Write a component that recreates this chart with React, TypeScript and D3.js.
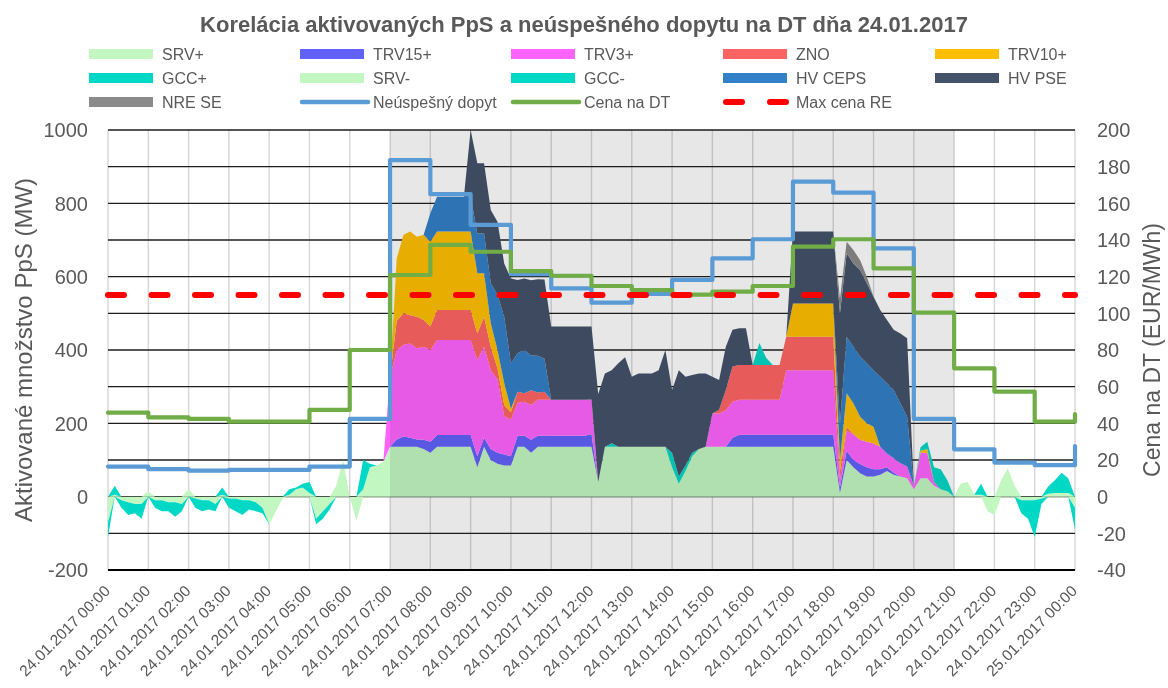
import React from 'react';
import * as d3 from 'd3';

const TITLE = 'Korelácia aktivovaných PpS a neúspešného dopytu na DT dňa 24.01.2017';

const X_LABELS = [
  '24.01.2017 00:00', '24.01.2017 01:00', '24.01.2017 02:00', '24.01.2017 03:00', '24.01.2017 04:00',
  '24.01.2017 05:00', '24.01.2017 06:00', '24.01.2017 07:00', '24.01.2017 08:00', '24.01.2017 09:00',
  '24.01.2017 10:00', '24.01.2017 11:00', '24.01.2017 12:00', '24.01.2017 13:00', '24.01.2017 14:00',
  '24.01.2017 15:00', '24.01.2017 16:00', '24.01.2017 17:00', '24.01.2017 18:00', '24.01.2017 19:00',
  '24.01.2017 20:00', '24.01.2017 21:00', '24.01.2017 22:00', '24.01.2017 23:00', '25.01.2017 00:00',
];

const LEFT_TICKS = [-200, 0, 200, 400, 600, 800, 1000];
const RIGHT_TICKS = [-40, -20, 0, 20, 40, 60, 80, 100, 120, 140, 160, 180, 200];

// stacked series, one value every 10 minutes (6 per hour, row = hour), last value = 24:00
const SRV_PLUS = [
  0, 5, 0, 0, 0, 0,
  15, 0, 0, 0, 0, 0,
  20, 0, 0, 0, 0, 5,
  0, 0, 0, 0, 0, 0,
  0, 0, 0, 5, 20, 25,
  10, 0, 0, 0, 30, 100,
  0, 0, 20, 80, 85, 95,
  136, 136, 136, 136, 136, 130,
  120, 136, 136, 136, 136, 136,
  136, 80, 136, 100, 90, 85,
  85, 136, 136, 120, 136, 136,
  136, 136, 136, 136, 136, 136,
  136, 40, 136, 136, 136, 136,
  136, 136, 136, 136, 136, 136,
  80, 35, 70, 110, 130, 136,
  136, 136, 136, 136, 136, 136,
  136, 136, 136, 136, 136, 136,
  136, 136, 136, 136, 136, 136,
  136, 10, 100, 80, 64, 55,
  55, 60, 70, 60, 55, 50,
  20, 50, 50, 30, 20, 15,
  0, 36, 40, 5, 5, 0,
  0, 45, 77, 30, 0, 0,
  0, 0, 8, 10, 10, 10,
  0,
];

const TRV15_PLUS = [
  0, 0, 0, 0, 0, 0,
  0, 0, 0, 0, 0, 0,
  0, 0, 0, 0, 0, 0,
  0, 0, 0, 0, 0, 0,
  0, 0, 0, 0, 0, 0,
  0, 0, 0, 0, 0, 0,
  0, 0, 0, 0, 0, 0,
  0, 20, 28, 25, 20, 25,
  30, 32, 32, 32, 32, 32,
  32, 30, 25, 30, 30, 30,
  25, 30, 30, 35, 30, 30,
  30, 30, 30, 30, 30, 30,
  35, 0, 0, 0, 0, 0,
  0, 0, 0, 0, 0, 0,
  0, 0, 0, 0, 0, 0,
  0, 0, 0, 25, 33, 33,
  33, 33, 33, 33, 33, 33,
  33, 33, 33, 33, 33, 33,
  33, 15, 25, 20, 25, 25,
  20, 15, 10, 5, 0, 0,
  0, 0, 0, 0, 0, 0,
  0, 0, 0, 0, 0, 0,
  0, 0, 0, 0, 0, 0,
  0, 0, 0, 0, 0, 0,
  0,
];

const TRV3_PLUS = [
  0, 0, 0, 0, 0, 0,
  0, 0, 0, 0, 0, 0,
  0, 0, 0, 0, 0, 0,
  0, 0, 0, 0, 0, 0,
  0, 0, 0, 0, 0, 0,
  0, 0, 0, 0, 0, 0,
  0, 0, 0, 0, 0, 0,
  190, 244, 250, 257, 249, 254,
  250, 259, 259, 259, 259, 259,
  259, 263, 248, 215, 200, 105,
  100, 90, 93, 95, 98, 98,
  98, 98, 98, 98, 98, 98,
  94, 0, 0, 0, 0, 0,
  0, 0, 0, 0, 0, 0,
  0, 0, 0, 0, 0, 0,
  91, 91, 100, 98, 95, 95,
  95, 95, 95, 95, 95, 176,
  176, 176, 176, 176, 176, 176,
  176, 20, 55, 70, 66, 70,
  70, 61, 38, 40, 36, 32,
  10, 70, 70, 10, 0, 0,
  0, 0, 0, 0, 0, 0,
  0, 0, 0, 0, 0, 0,
  0, 0, 0, 0, 0, 0,
  0,
];

const ZNO = [
  0, 0, 0, 0, 0, 0,
  0, 0, 0, 0, 0, 0,
  0, 0, 0, 0, 0, 0,
  0, 0, 0, 0, 0, 0,
  0, 0, 0, 0, 0, 0,
  0, 0, 0, 0, 0, 0,
  0, 0, 0, 0, 0, 0,
  0, 80, 86, 77, 86, 73,
  64, 82, 82, 82, 82, 82,
  82, 72, 82, 64, 30, 30,
  20, 30, 23, 40, 20, 22,
  0, 0, 0, 0, 0, 0,
  0, 0, 0, 0, 0, 0,
  0, 0, 0, 0, 0, 0,
  0, 0, 0, 0, 0, 0,
  0, 10, 55, 96, 95, 95,
  95, 95, 95, 95, 95, 91,
  91, 91, 91, 91, 91, 91,
  91, 25, 10, 0, 0, 0,
  0, 0, 0, 0, 0, 0,
  0, 0, 0, 0, 0, 0,
  0, 0, 0, 0, 0, 0,
  0, 0, 0, 0, 0, 0,
  0, 0, 0, 0, 0, 0,
  0,
];

const TRV10_PLUS = [
  0, 0, 0, 0, 0, 0,
  0, 0, 0, 0, 0, 0,
  0, 0, 0, 0, 0, 0,
  0, 0, 0, 0, 0, 0,
  0, 0, 0, 0, 0, 0,
  0, 0, 0, 0, 0, 0,
  0, 0, 0, 0, 0, 0,
  0, 170, 214, 228, 218, 232,
  231, 214, 214, 214, 214, 214,
  214, 164, 118, 64, 50, 60,
  10, 0, 0, 0, 0, 0,
  0, 0, 0, 0, 0, 0,
  0, 0, 0, 0, 0, 0,
  0, 0, 0, 0, 0, 0,
  0, 0, 0, 0, 0, 0,
  0, 0, 0, 0, 0, 0,
  0, 0, 0, 0, 0, 0,
  91, 91, 91, 91, 91, 91,
  91, 30, 92, 85, 63, 50,
  46, 0, 0, 0, 0, 0,
  0, 5, 10, 0, 0, 0,
  0, 0, 0, 0, 0, 0,
  0, 0, 0, 0, 0, 0,
  0, 0, 0, 0, 0, 0,
  0,
];

const GCC_PLUS = [
  0, 25, 0, 0, 0, 0,
  0, 0, 0, 0, 0, 0,
  0, 0, 0, 0, 0, 20,
  0, 0, 0, 0, 0, 0,
  0, 0, 0, 15, 5, 10,
  30, 0, 0, 0, 0, 0,
  0, 0, 80, 10, 0, 0,
  0, 0, 0, 0, 0, 0,
  0, 0, 0, 0, 0, 0,
  0, 0, 0, 0, 0, 0,
  0, 0, 0, 0, 0, 0,
  0, 0, 0, 0, 0, 0,
  0, 0, 0, 10, 0, 0,
  0, 0, 0, 0, 0, 0,
  40, 20, 15, 10, 0, 0,
  0, 0, 0, 0, 0, 0,
  0, 60, 20, 0, 0, 0,
  0, 0, 0, 0, 0, 0,
  0, 0, 0, 0, 0, 0,
  0, 0, 0, 0, 0, 0,
  0, 10, 20, 40, 55, 30,
  0, 0, 0, 0, 30, 0,
  0, 0, 0, 0, 0, 0,
  0, 0, 20, 35, 55, 40,
  0,
];

const SRV_MINUS = [
  -70, 0, -10, -15, -20, -20,
  0, -10, -10, -15, -15, -20,
  0, -5, -10, -10, -20, 0,
  -5, -5, -10, -10, -15, -30,
  -75, -40, -5, 0, 0, 0,
  0, -60, -40, -20, 0, 0,
  0, -65, 0, 0, 0, 0,
  0, 0, 0, 0, 0, 0,
  0, 0, 0, 0, 0, 0,
  0, 0, 0, 0, 0, 0,
  0, 0, 0, 0, 0, 0,
  0, 0, 0, 0, 0, 0,
  0, 0, 0, 0, 0, 0,
  0, 0, 0, 0, 0, 0,
  0, 0, 0, 0, 0, 0,
  0, 0, 0, 0, 0, 0,
  0, 0, 0, 0, 0, 0,
  0, 0, 0, 0, 0, 0,
  0, 0, 0, 0, 0, 0,
  0, 0, 0, 0, 0, 0,
  0, 0, 0, 0, 0, 0,
  0, 0, 0, 0, 0, -40,
  -50, 0, 0, 0, -10, -10,
  -10, -5, 0, 0, 0, 0,
  -30,
];

const GCC_MINUS = [
  -40, 0, -20, -35, -25, -40,
  0, -20, -30, -25, -40, -20,
  0, -25, -30, -25, -20, 0,
  -25, -35, -40, -25, -25, -15,
  0, 0, 0, 0, 0, 0,
  0, -15, -20, -15, 0, 0,
  0, 0, 0, 0, 0, 0,
  0, 0, 0, 0, 0, 0,
  0, 0, 0, 0, 0, 0,
  0, 0, 0, 0, 0, 0,
  0, 0, 0, 0, 0, 0,
  0, 0, 0, 0, 0, 0,
  0, 0, 0, 0, 0, 0,
  0, 0, 0, 0, 0, 0,
  0, 0, 0, 0, 0, 0,
  0, 0, 0, 0, 0, 0,
  0, 0, 0, 0, 0, 0,
  0, 0, 0, 0, 0, 0,
  0, 0, 0, 0, 0, 0,
  0, 0, 0, 0, 0, 0,
  0, 0, 0, 0, 0, 0,
  0, 0, 0, 0, 0, 0,
  0, 0, 0, 0, -35, -50,
  -100, -15, 0, 0, 0, 0,
  -60,
];

const HV_CEPS = [
  0, 0, 0, 0, 0, 0,
  0, 0, 0, 0, 0, 0,
  0, 0, 0, 0, 0, 0,
  0, 0, 0, 0, 0, 0,
  0, 0, 0, 0, 0, 0,
  0, 0, 0, 0, 0, 0,
  0, 0, 0, 0, 0, 0,
  0, 0, 0, 0, 0, 0,
  78, 95, 95, 95, 95, 95,
  95, 109, 109, 109, 150, 181,
  124, 105, 118, 95, 100, 90,
  0, 0, 0, 0, 0, 0,
  0, 0, 0, 0, 0, 0,
  0, 0, 0, 0, 0, 0,
  0, 0, 0, 0, 0, 0,
  0, 0, 0, 0, 0, 0,
  0, 0, 0, 0, 0, 0,
  0, 0, 0, 0, 0, 0,
  0, 100, 154, 154, 164, 164,
  154, 191, 191, 186, 164, 136,
  0, 0, 0, 0, 0, 0,
  0, 0, 0, 0, 0, 0,
  0, 0, 0, 0, 0, 0,
  0, 0, 0, 0, 0, 0,
  0,
];

const HV_PSE = [
  0, 0, 0, 0, 0, 0,
  0, 0, 0, 0, 0, 0,
  0, 0, 0, 0, 0, 0,
  0, 0, 0, 0, 0, 0,
  0, 0, 0, 0, 0, 0,
  0, 0, 0, 0, 0, 0,
  0, 0, 0, 0, 0, 0,
  0, 0, 0, 0, 0, 0,
  0, 0, 0, 0, 0, 0,
  182, 191, 191, 200, 200, 145,
  231, 200, 195, 205, 209, 216,
  200, 200, 200, 200, 200, 200,
  199, 240, 200, 199, 228, 244,
  191, 200, 200, 200, 209, 264,
  171, 290, 242, 212, 206, 200,
  100, 81, 118, 100, 100, 100,
  0, 0, 0, 0, 0, 0,
  196, 196, 196, 196, 196, 196,
  196, 300, 228, 227, 236, 218,
  200, 182, 173, 164, 190, 214,
  0, 0, 0, 0, 0, 0,
  0, 0, 0, 0, 0, 0,
  0, 0, 0, 0, 0, 0,
  0, 0, 0, 0, 0, 0,
  0,
];

const NRE_SE = [
  0, 0, 0, 0, 0, 0,
  0, 0, 0, 0, 0, 0,
  0, 0, 0, 0, 0, 0,
  0, 0, 0, 0, 0, 0,
  0, 0, 0, 0, 0, 0,
  0, 0, 0, 0, 0, 0,
  0, 0, 0, 0, 0, 0,
  0, 0, 0, 0, 0, 0,
  0, 0, 0, 0, 0, 0,
  0, 0, 0, 0, 0, 0,
  0, 0, 0, 0, 0, 0,
  0, 0, 0, 0, 0, 0,
  0, 0, 0, 0, 0, 0,
  0, 0, 0, 0, 0, 0,
  0, 0, 0, 0, 0, 0,
  0, 0, 0, 0, 0, 0,
  0, 0, 0, 0, 0, 0,
  0, 0, 0, 0, 0, 0,
  0, 40, 31, 37, 27, 18,
  0, 0, 0, 0, 0, 0,
  0, 0, 0, 0, 0, 0,
  0, 0, 0, 0, 0, 0,
  0, 0, 0, 0, 0, 0,
  0, 0, 0, 0, 0, 0,
  0,
];

// hourly values (00:00 ... 23:00, then 24:00)
const NEUSPESNY_DOPYT = [82, 75, 71, 73, 73, 82, 212, 918, 825, 741, 607, 568, 529, 553, 591, 650, 702, 859, 829, 677, 212, 129, 93, 86, 138];
const CENA_NA_DT = [45.8, 43.3, 42.4, 40.9, 40.9, 47.3, 80, 120.9, 137.3, 133.6, 123, 120.5, 114.9, 112.7, 110.2, 111.8, 114.9, 136.4, 140.4, 124.5, 100.4, 70, 57.3, 40.9, 45];
const MAX_CENA_RE = [110, 110];

const SERIES = [
  { key: 'SRV+', values: SRV_PLUS, color: '#c2f7c2', neg: false },
  { key: 'TRV15+', values: TRV15_PLUS, color: '#6161fa', neg: false },
  { key: 'TRV3+', values: TRV3_PLUS, color: '#ff63fe', neg: false },
  { key: 'ZNO', values: ZNO, color: '#ff6464', neg: false },
  { key: 'TRV10+', values: TRV10_PLUS, color: '#ffbf00', neg: false },
  { key: 'GCC+', values: GCC_PLUS, color: '#00d8c6', neg: false },
  { key: 'SRV-', values: SRV_MINUS, color: '#c2f7c2', neg: true },
  { key: 'GCC-', values: GCC_MINUS, color: '#00d8c6', neg: true },
  { key: 'HV CEPS', values: HV_CEPS, color: '#3280c8', neg: false },
  { key: 'HV PSE', values: HV_PSE, color: '#44526a', neg: false },
  { key: 'NRE SE', values: NRE_SE, color: '#8a8a8a', neg: false },
];

const FONT = "'Liberation Sans', Arial, sans-serif";
const TEXT = '#595959';
const W = 1168, H = 688;
const PL = 108, PR = 1075, PT = 130, PB = 570;

const NEG_KEYS = new Set(SERIES.filter(s => s.neg).map(s => s.key));

// positives stack up, negatives stack down, zeros stay on their own side
function offsetSigned(series: any, order: number[]) {
  const m = series[0].length;
  for (let j = 0; j < m; j++) {
    let up = 0, down = 0;
    for (const i of order) {
      const d = series[i][j];
      const v = d[1] - d[0];
      if (NEG_KEYS.has(series[i].key)) {
        d[1] = down; down += v; d[0] = down;
      } else {
        d[0] = up; up += v; d[1] = up;
      }
    }
  }
}

export default function App() {
  const x = d3.scaleLinear().domain([0, 24]).range([PL, PR]);
  const y = d3.scaleLinear().domain([-200, 1000]).range([PB, PT]);
  const yR = d3.scaleLinear().domain([-40, 200]).range([PB, PT]);

  const rows = SRV_PLUS.map((_, i) => {
    const r: any = { t: i / 6 };
    SERIES.forEach(s => { r[s.key] = s.values[i]; });
    return r;
  });
  const stacked = d3.stack<any>().keys(SERIES.map(s => s.key)).offset(offsetSigned as any)(rows);
  const area = d3.area<any>().x(d => x(d.data.t)).y0(d => y(d[0])).y1(d => y(d[1]));

  const dopytLine = d3.line<number>().x((_, i) => x(i)).y(d => y(d)).curve(d3.curveStepAfter);
  const cenaLine = d3.line<number>().x((_, i) => x(i)).y(d => yR(d)).curve(d3.curveStepAfter);
  const maxLine = d3.line<number>().x((_, i) => x(i * 24)).y(d => yR(d));

  const hours = d3.range(25);
  const grid = d3.range(-200, 1001, 100);

  const colX = [89, 300, 511, 723, 935];
  const rowY = [54, 78, 102];
  const legend: { label: string; kind: string; color: string }[] = [
    ...SERIES.map(s => ({ label: s.key, kind: 'rect', color: s.color })),
    { label: 'Neúspešný dopyt', kind: 'line', color: '#5b9bd5' },
    { label: 'Cena na DT', kind: 'line', color: '#70ad47' },
    { label: 'Max cena RE', kind: 'dash', color: '#ff0000' },
  ];

  return (
    <svg width={W} height={H} style={{ position: 'absolute', left: 0, top: 0, background: '#fff' }}
      fontFamily={FONT}>
      <rect x={0} y={0} width={W} height={H} fill="#fff" />
      <text x={584} y={32} textAnchor="middle" fontSize={22} fontWeight="bold" fill={TEXT}>{TITLE}</text>

      {legend.map((it, i) => {
        const cx = colX[i % 5];
        const cy = rowY[Math.floor(i / 5)];
        return (
          <g key={it.label}>
            {it.kind === 'rect' && <rect x={cx} y={cy - 5} width={64} height={10} fill={it.color} />}
            {it.kind === 'line' && <line x1={cx + 2} x2={cx + 68} y1={cy} y2={cy} stroke={it.color} strokeWidth={4.5} strokeLinecap="round" />}
            {it.kind === 'dash' && <line x1={cx + 3} x2={cx + 64} y1={cy} y2={cy} stroke={it.color} strokeWidth={6} strokeLinecap="round" strokeDasharray="16 28" />}
            <text x={cx + 73} y={cy} dy="0.36em" fontSize={16} fill={TEXT}>{it.label}</text>
          </g>
        );
      })}

      {hours.map(h => (
        <line key={'v' + h} x1={x(h)} x2={x(h)} y1={PT} y2={PB} stroke="#d6d6d6" strokeWidth={1.4} />
      ))}
      {grid.map(g => (
        <line key={'h' + g} x1={PL} x2={PR} y1={y(g)} y2={y(g)} stroke={g === -200 ? '#000' : '#1e1e1e'} strokeWidth={g === -200 ? 2.2 : 1.3} />
      ))}

      {stacked.map((s, i) => (
        <path key={s.key} d={area(s) || ''} fill={SERIES[i].color} />
      ))}

      <rect x={x(7)} y={PT} width={x(21) - x(7)} height={PB - PT} fill="#e7e7e7" style={{ mixBlendMode: 'multiply' }} />

      <path d={dopytLine(NEUSPESNY_DOPYT) || ''} fill="none" stroke="#5b9bd5" strokeWidth={4.2} strokeLinejoin="round" strokeLinecap="round" />
      <path d={cenaLine(CENA_NA_DT) || ''} fill="none" stroke="#70ad47" strokeWidth={4.2} strokeLinejoin="round" strokeLinecap="round" />
      <path d={maxLine(MAX_CENA_RE) || ''} fill="none" stroke="#ff0000" strokeWidth={6} strokeLinecap="round" strokeDasharray="16 27.5" />

      {LEFT_TICKS.map(t => (
        <text key={'l' + t} x={88} y={y(t)} dy="0.36em" textAnchor="end" fontSize={20} fill={TEXT}>{t}</text>
      ))}
      {RIGHT_TICKS.map(t => (
        <text key={'r' + t} x={1097} y={yR(t)} dy="0.36em" fontSize={20} fill={TEXT}>{t}</text>
      ))}
      {X_LABELS.map((lab, i) => (
        <text key={lab} transform={`translate(${x(i) + 3},592) rotate(-45)`} textAnchor="end" fontSize={15.5} fill={TEXT}>{lab}</text>
      ))}

      <text transform="translate(32,350) rotate(-90)" textAnchor="middle" fontSize={24} fill={TEXT}>Aktivované množstvo PpS (MW)</text>
      <text transform="translate(1160,350) rotate(-90)" textAnchor="middle" fontSize={23} fill={TEXT}>Cena na DT (EUR/MWh)</text>
    </svg>
  );
}
